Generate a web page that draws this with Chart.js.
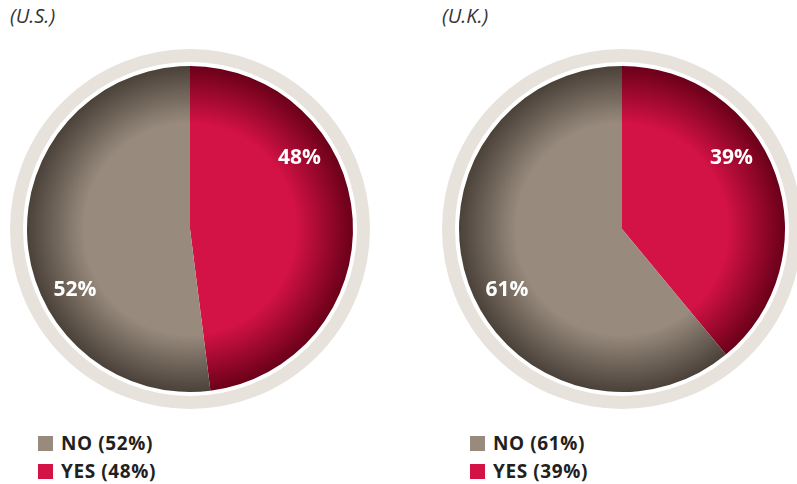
<!DOCTYPE html>
<html>
<head>
<meta charset="utf-8">
<script src="https://cdn.jsdelivr.net/npm/chart.js@4"></script>
<style>
  html, body { margin: 0; padding: 0; background: #fff; width: 797px; height: 484px; overflow: hidden; }
  body { position: relative; font-family: "Open Sans", "Noto Sans", sans-serif; }
  .title { position: absolute; top: 2px; font-size: 20px; font-style: italic; color: #333; }
  .box { position: absolute; top: 49px; width: 360px; height: 360px; }
  .legend { position: absolute; top: 430px; font-size: 19px; letter-spacing: 0.6px; font-weight: bold; color: #231f20; }
  .legend div { height: 28px; line-height: 26px; white-space: nowrap; }
  .legend span { display: inline-block; width: 15px; height: 15px; margin-right: 8px; vertical-align: -1px; }
</style>
</head>
<body>
<div class="title" style="left:10px">(U.S.)</div>
<div class="title" style="left:442px">(U.K.)</div>
<div class="box" style="left:10px"><canvas id="chartUS"></canvas></div>
<div class="box" style="left:442px"><canvas id="chartUK"></canvas></div>
<div class="legend" id="legendUS" style="left:38px"></div>
<div class="legend" id="legendUK" style="left:470px"></div>
<script>
// dados (ordem do gráfico: YES começa no topo, sentido horário)
const categories = ['YES', 'NO'];
const usValues = [48, 52];
const ukValues = [39, 61];

const baseColors = ['#d31245', '#988a7d'];
const edgeColors = ['#6a0019', '#4a4139'];

/*
* Gradiente radial: cor base no centro, escurece na borda.
*/
function sliceColor(ctx) {
  const chart = ctx.chart;
  const area = chart.chartArea;
  if (!area) return baseColors[ctx.dataIndex];
  const arc = chart.getDatasetMeta(0).data[ctx.dataIndex];
  const r = arc && arc.outerRadius ? arc.outerRadius : 163;
  const cx = (area.left + area.right) / 2;
  const cy = (area.top + area.bottom) / 2;
  const g = chart.ctx.createRadialGradient(cx, cy, 0, cx, cy, r);
  g.addColorStop(0, baseColors[ctx.dataIndex]);
  g.addColorStop(0.65, baseColors[ctx.dataIndex]);
  g.addColorStop(1, edgeColors[ctx.dataIndex]);
  return g;
}

/*
* Anel bege em volta da pizza.
*/
const ringPlugin = {
  id: 'ring',
  beforeDatasetsDraw(chart) {
    const arc = chart.getDatasetMeta(0).data[0];
    if (!arc) return;
    const c = chart.ctx;
    c.save();
    c.beginPath();
    c.arc(arc.x, arc.y, arc.outerRadius + 10.5, 0, Math.PI * 2);
    c.lineWidth = 13;
    c.strokeStyle = '#e8e2dc';
    c.stroke();
    c.restore();
  }
};

/*
* Rótulos de porcentagem dentro das fatias.
*/
const pctPlugin = {
  id: 'pct',
  afterDatasetsDraw(chart, args, opts) {
    const meta = chart.getDatasetMeta(0);
    const values = chart.data.datasets[0].data;
    const c = chart.ctx;
    c.save();
    c.fillStyle = '#fff';
    c.font = 'bold 21px "Open Sans", "Noto Sans", sans-serif';
    c.textAlign = 'center';
    c.textBaseline = 'middle';
    meta.data.forEach((arc, i) => {
      const a = opts.angles[i] * Math.PI / 180 - Math.PI / 2;
      const d = arc.outerRadius * opts.dist;
      c.fillText(values[i] + '%', arc.x + Math.cos(a) * d, arc.y + Math.sin(a) * d);
    });
    c.restore();
  }
};

function makePie(id, values) {
  return new Chart(document.getElementById(id), {
    type: 'pie',
    data: {
      labels: categories,
      datasets: [{
        data: values,
        backgroundColor: sliceColor,
        borderWidth: 0,
        hoverOffset: 0
      }]
    },
    options: {
      responsive: true,
      maintainAspectRatio: false,
      animation: false,
      radius: 163,
      layout: { padding: 0 },
      plugins: {
        legend: { display: false },
        tooltip: { enabled: false },
        pct: { angles: [57, 242], dist: 0.8 }
      }
    },
    plugins: [ringPlugin, pctPlugin]
  });
}

function fillLegend(id, values) {
  const el = document.getElementById(id);
  // legenda na ordem NO, YES
  for (let i = categories.length - 1; i >= 0; i--) {
    const row = document.createElement('div');
    row.innerHTML = '<span style="background:' + baseColors[i] + '"></span>' + categories[i] + ' (' + values[i] + '%)';
    el.appendChild(row);
  }
}

makePie('chartUS', usValues);
makePie('chartUK', ukValues);
fillLegend('legendUS', usValues);
fillLegend('legendUK', ukValues);
</script>
</body>
</html>
